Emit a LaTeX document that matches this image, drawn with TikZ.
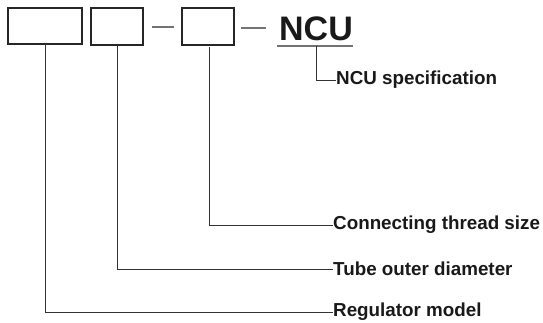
\documentclass[tikz,border=0pt]{standalone}
\usepackage{fontspec}
\setmainfont{Liberation Sans}
\begin{document}
\begin{tikzpicture}[x=1pt,y=-1pt,
  codebox/.style={draw=black!85,line width=1.2pt},
  leader/.style={draw=black!80,line width=0.9pt},
  sep/.style={draw=black!55,line width=1.2pt},
  lbl/.style={font=\bfseries\fontsize{18.8}{20}\selectfont,anchor=west,inner sep=0pt,text=black!90},
  big/.style={font=\bfseries\fontsize{34}{38}\selectfont,inner sep=0pt,text=black!90}]
\useasboundingbox (0,0) rectangle (543,322);
\draw[codebox] (8,8) rectangle (82,44);
\draw[codebox] (91,8) rectangle (143,45);
\draw[codebox] (182,8) rectangle (234,45);
\draw[sep] (152,27) -- (174,27);
\draw[sep] (241,28) -- (266,28);
\node[big,anchor=base] (ncu) at (316,40) {NCU};
\draw[sep,line width=1.5pt] (277,46) -- (353,46);
\coordinate (u) at (316,46);
\node[lbl] (spec) at (336,80) {NCU specification};
\draw[leader] (u) |- (spec.west);
\node[lbl] (thr) at (333,225) {Connecting thread size};
\node[lbl] (tube) at (333,269) {Tube outer diameter};
\node[lbl] (reg) at (333,312) {Regulator model};
\coordinate (b1) at (45,44);
\coordinate (b2) at (117,45);
\coordinate (b3) at (209,47);
\draw[leader] (b3) |- (thr.west);
\draw[leader] (b2) |- (tube.west);
\draw[leader] (b1) |- (reg.west);
\end{tikzpicture}
\end{document}
